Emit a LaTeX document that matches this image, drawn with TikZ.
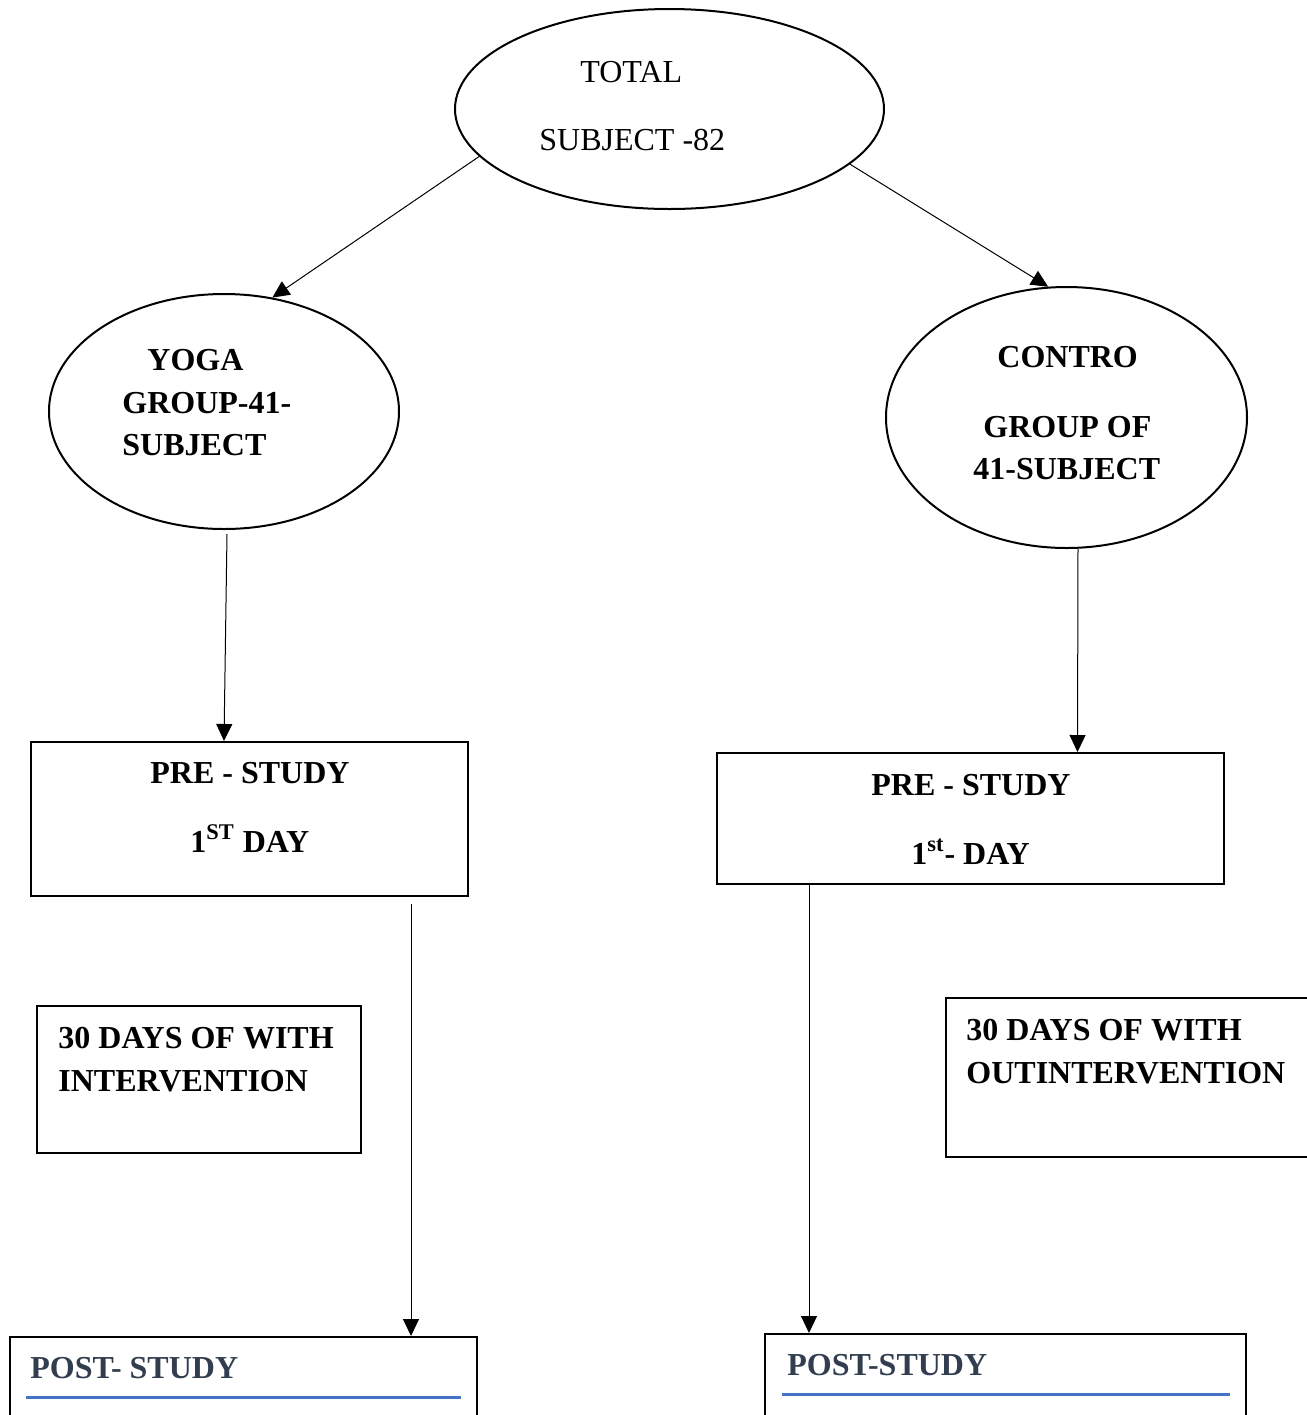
\documentclass[tikz,border=0pt]{standalone}
\usepackage{fontspec}
\setmainfont{Liberation Serif}
\usetikzlibrary{shapes.geometric,arrows.meta}
\definecolor{posttext}{HTML}{323E4F}
\definecolor{accentblue}{HTML}{4472C4}
\begin{document}
\begin{tikzpicture}[x=0.5pt,y=-0.5pt,
  oval/.style={ellipse, draw, line width=1pt, inner sep=0},
  prebox/.style={rectangle, draw, line width=1pt, inner sep=0},
  notebox/.style={rectangle, draw, line width=0.6pt, inner sep=0},
  lbl/.style={anchor=base west, inner sep=0, font=\fontsize{16}{21}\selectfont\bfseries},
  plain/.style={anchor=base west, inner sep=0, font=\fontsize{16}{21}\selectfont},
  postlbl/.style={lbl, text=posttext},
  arr/.style={-{Triangle[length=8.5pt,width=8pt]}, line width=0.5pt},
  rule/.style={accentblue, line width=1.5pt}]
\useasboundingbox (0,0) rectangle (1307,1415);

% shapes
\node[oval, minimum width=214.5pt, minimum height=100pt] (total) at (669.5,109) {};
\node[oval, minimum width=175pt, minimum height=117.5pt] (yoga) at (224,411.5) {};
\node[oval, minimum width=180.5pt, minimum height=130.5pt] (control) at (1066.5,417.5) {};
\node[prebox, minimum width=218.5pt, minimum height=77pt] (preL) at (249.5,819) {};
\node[prebox, minimum width=253.5pt, minimum height=65.5pt] (preR) at (970.5,818.5) {};
\node[notebox, minimum width=162pt, minimum height=73.5pt] (noteL) at (199,1079.5) {};
\node[notebox, minimum width=182pt, minimum height=79.5pt] (noteR) at (1128,1077.5) {};
\node[prebox, minimum width=233.5pt, minimum height=40pt] (postL) at (243.5,1377) {};
\node[prebox, minimum width=240.5pt, minimum height=41.5pt] (postR) at (1005.5,1375.5) {};

% texts
\node[plain] (t1) at (580,82) {TOTAL};
\node[plain] (t2) at (539,150) {SUBJECT -82};
\node[lbl] (y1) at (147,370) {YOGA};
\node[lbl] (y2) at (122,413) {GROUP-41-};
\node[lbl] (y3) at (122,455) {SUBJECT};
\node[lbl] (c1) at (997,367) {CONTRO};
\node[lbl] (c2) at (983,437) {GROUP OF};
\node[lbl] (c3) at (973,479) {41-SUBJECT};
\node[lbl] (pl1) at (150,783) {PRE - STUDY};
\node[lbl] (pl2) at (190,852) {1\textsuperscript{ST} DAY};
\node[lbl] (pr1) at (871,795) {PRE - STUDY};
\node[lbl] (pr2) at (911,864) {1\textsuperscript{st}- DAY};
\node[lbl] (nl1) at (58,1048) {30 DAYS OF WITH};
\node[lbl] (nl2) at (58,1091) {INTERVENTION};
\node[lbl] (nr1) at (966,1040) {30 DAYS OF WITH};
\node[lbl] (nr2) at (966,1083) {OUTINTERVENTION};
\node[postlbl] (ql) at (30,1378) {POST- STUDY};
\node[postlbl] (qr) at (787,1375) {POST-STUDY};

% rules under post-study headings
\draw[rule] (26,1397) -- (461,1397);
\draw[rule] (782,1394) -- (1230,1394);

% connectors
\draw[arr] (total.194) -- (yoga.67);
\draw[arr] (total.-17) -- (control.98);
\draw[arr] ([xshift=1.5pt,yshift=-2pt]yoga.south) -- ([xshift=-12.75pt]preL.north);
\draw[arr] ([xshift=5.75pt]control.south) -- ([xshift=53.5pt]preR.north);
\draw[arr] ([xshift=80.75pt,yshift=-3.5pt]preL.south) -- ([xshift=83.75pt]postL.north);
\draw[arr] ([xshift=-80.75pt]preR.south) -- ([xshift=-98.25pt]postR.north);
\end{tikzpicture}
\end{document}
